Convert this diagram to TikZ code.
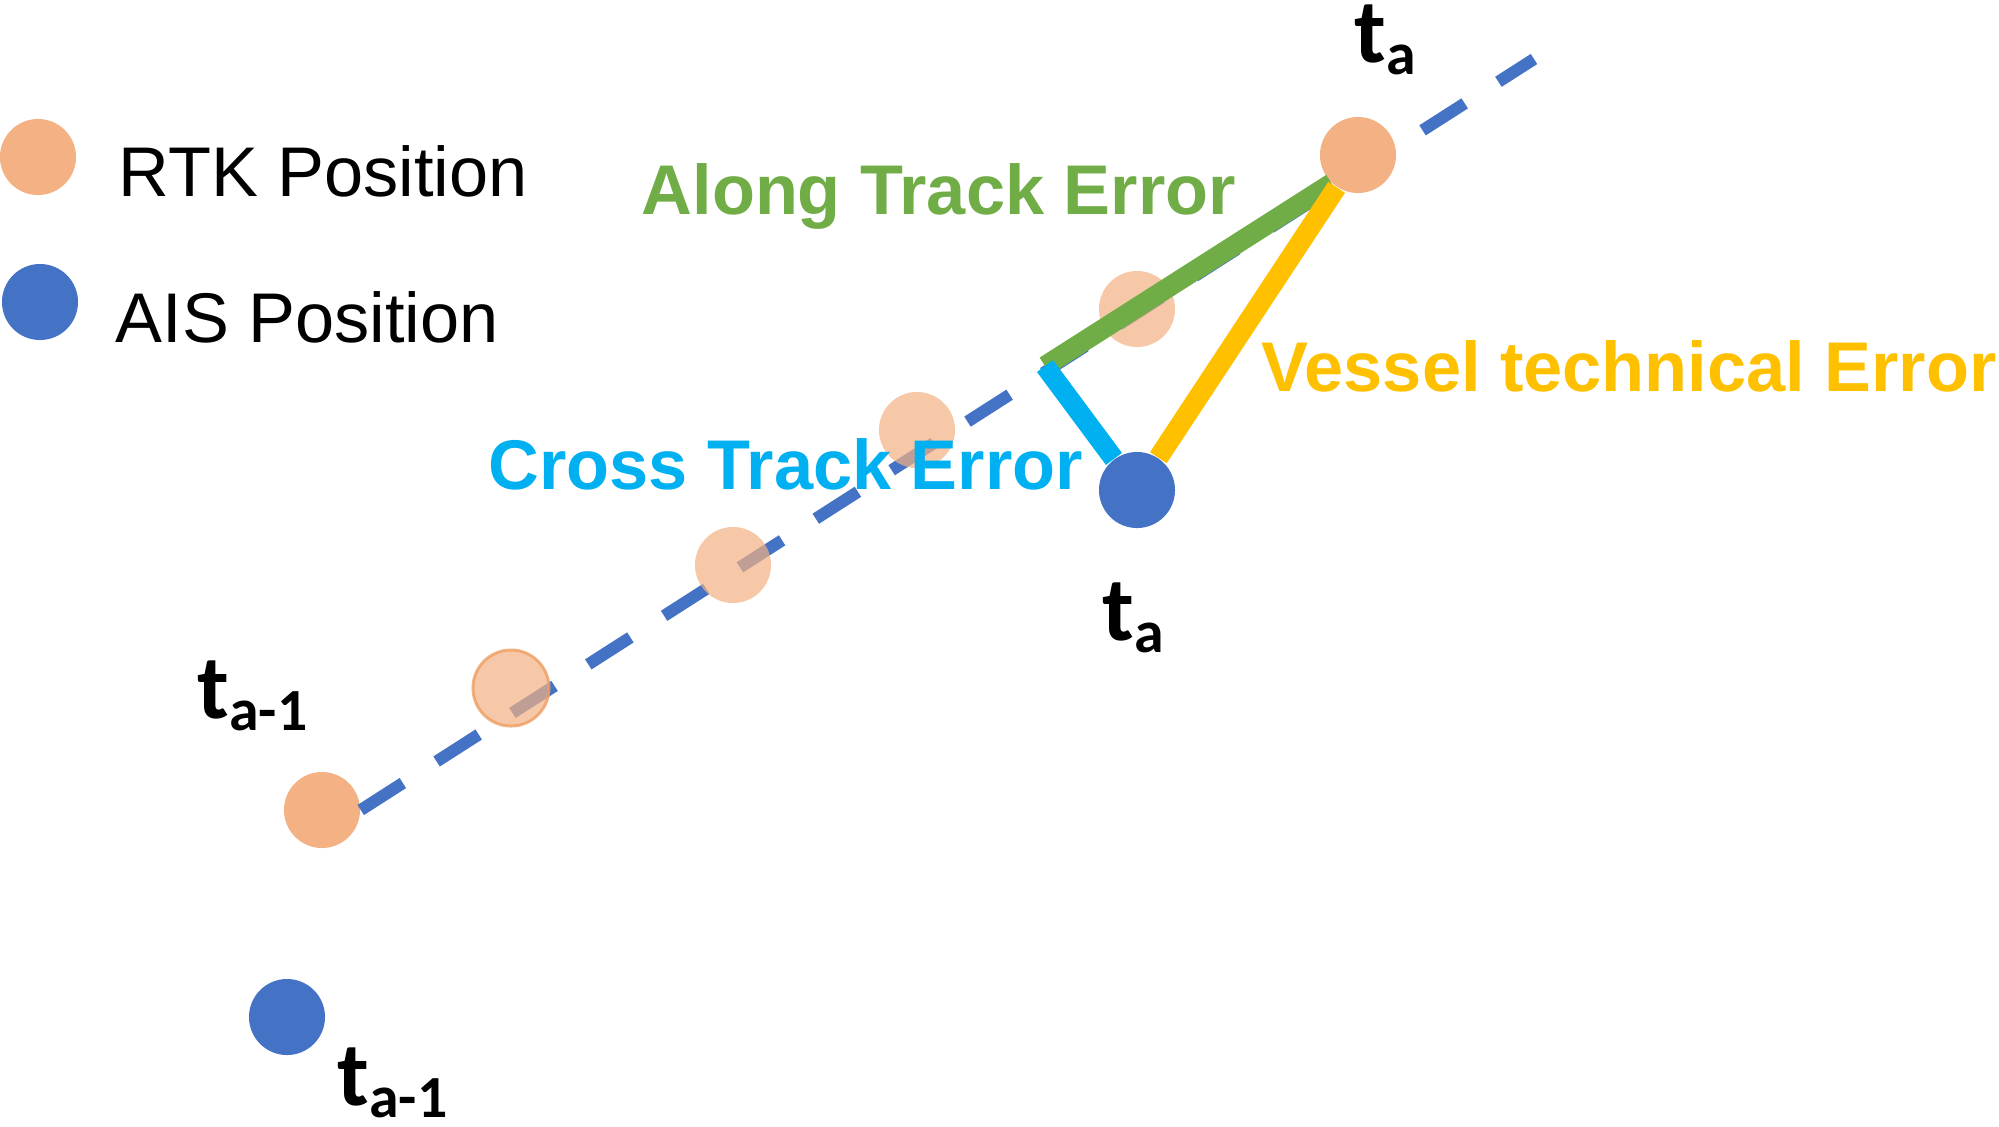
\documentclass[tikz,border=0pt]{standalone}
\usepackage{fontspec}
\setmainfont{Liberation Sans}
\newfontfamily\tfont{Carlito}

\definecolor{rtkorange}{HTML}{F4B183}
\definecolor{rtkedge}{HTML}{EE9E62}
\definecolor{aisblue}{HTML}{4472C4}
\definecolor{alonggreen}{HTML}{70AD47}
\definecolor{crosscyan}{HTML}{00B0F0}
\definecolor{vesselyellow}{HTML}{FFC000}

\newcommand{\tlab}[1]{{\tfont\bfseries\fontsize{26pt}{26pt}\selectfont t\raisebox{-0.12cm}{\fontsize{17pt}{17pt}\selectfont #1}}}

\begin{document}
\begin{tikzpicture}[x = 0.01cm, y = -0.01cm,
        rtk/.style = {circle, fill = rtkorange, minimum size = 0.76cm, inner sep = 0pt},
        ais/.style = {circle, fill = aisblue, minimum size = 0.76cm, inner sep = 0pt},
        faded/.style = {rtk, fill opacity = 0.7},
        lbl/.style = {anchor = base west, inner sep = 0pt, font = \fontsize{20pt}{24pt}\selectfont},
        err/.style = {lbl, font = \fontsize{20pt}{24pt}\selectfont\bfseries},
        tlbl/.style = {anchor = base west, inner sep = 0pt},
        errline/.style = {line width = 0.2cm}]
        \useasboundingbox (0,0) rectangle (1999,1126);

        \node[rtk] (keyrtk) at (38,157) {};
        \node[ais] (keyais) at (40,302) {};
        \node[lbl] (keyrtktext) at (118,196) {RTK Position};
        \node[lbl] (keyaistext) at (115,342) {AIS Position};

        \node[rtk] (rtkprev) at (322,810) {};
        \node[ais] (aisprev) at (287,1017) {};
        \coordinate (trackend) at (1534,59);
        \coordinate (foot) at (1045,366);

        \draw[aisblue, line width = 0.12cm, dash pattern = on 0.5cm off 0.4cm] (rtkprev.east) -- (trackend);

        \node[faded, draw = rtkedge, draw opacity = 0.8, line width = 0.03cm] (rtkmid1) at (511,688) {};
        \node[faded] (rtkmid2) at (733,565) {};
        \node[faded] (rtkmid3) at (917,430) {};
        \node[faded] (rtkmid4) at (1137,309) {};

        \node[rtk] (rtkcur) at (1358,155) {};
        \node[ais] (aiscur) at (1137,490) {};

        \draw[errline, alonggreen] (foot) -- (rtkcur.227);
        \draw[errline, crosscyan] (foot) -- (aiscur);
        \draw[errline, vesselyellow] (aiscur) -- (rtkcur);

        \node[err, text = alonggreen] (alonglbl) at (641,214) {Along Track Error};
        \node[err, text = crosscyan] (crosslbl) at (488,489) {Cross Track Error};
        \node[err, text = vesselyellow] (vessellbl) at (1261,391) {Vessel technical Error};

        \node[tlbl] (trtkcur) at (1354,62) {\tlab{a}};
        \node[tlbl] (taiscur) at (1102,640) {\tlab{a}};
        \node[tlbl] (trtkprev) at (197,718) {\tlab{a-1}};
        \node[tlbl] (taisprev) at (337,1105) {\tlab{a-1}};
    \end{tikzpicture}
\end{document}
